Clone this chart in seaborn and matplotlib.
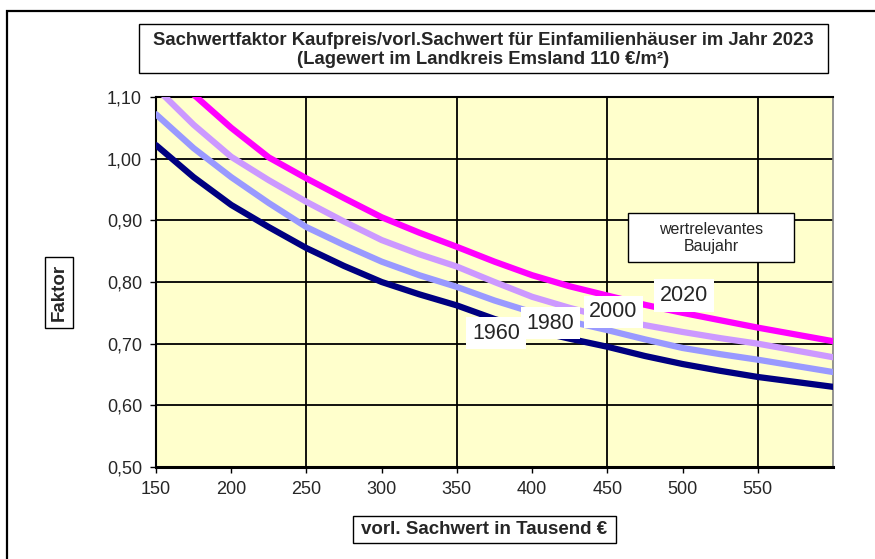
import numpy as np
import pandas as pd
import seaborn as sns
from matplotlib import pyplot as plt
from matplotlib.patches import Rectangle
from matplotlib.ticker import MultipleLocator, FuncFormatter

# vorl. Sachwert in Tausend Euro
sachwert = [150, 175, 200, 225, 250, 275, 300, 325, 350, 375,
            400, 425, 450, 475, 500, 525, 550, 575, 600]
# Sachwertfaktor je wertrelevantem Baujahr
faktor_1960 = [1.022, 0.970, 0.925, 0.889, 0.855, 0.826, 0.800, 0.780, 0.762, 0.740,
               0.722, 0.708, 0.695, 0.680, 0.667, 0.656, 0.646, 0.638, 0.630]
faktor_1980 = [1.072, 1.017, 0.970, 0.928, 0.889, 0.860, 0.833, 0.811, 0.792, 0.770,
               0.751, 0.736, 0.722, 0.707, 0.693, 0.683, 0.674, 0.664, 0.654]
faktor_2000 = [1.115, 1.055, 1.003, 0.965, 0.930, 0.898, 0.868, 0.845, 0.825, 0.800,
               0.776, 0.758, 0.742, 0.730, 0.719, 0.709, 0.700, 0.689, 0.678]
faktor_2020 = [1.160, 1.104, 1.050, 1.002, 0.968, 0.936, 0.905, 0.880, 0.857, 0.833,
               0.811, 0.793, 0.778, 0.763, 0.750, 0.738, 0.726, 0.715, 0.704]
baujahre = ['1960', '1980', '2000', '2020']
farben = ['#000080', '#9999FF', '#CC99FF', '#FF00FF']
# Beschriftung der Kurven (x, y in Datenkoordinaten)
label_x = [376, 412, 454, 501]
label_y = [0.717, 0.733, 0.752, 0.778]

df = pd.DataFrame({
    'Sachwert': sachwert * 4,
    'Faktor': faktor_1960 + faktor_1980 + faktor_2000 + faktor_2020,
    'Baujahr': np.repeat(baujahre, len(sachwert)),
})

sns.set_style('white')
plt.rcParams['font.family'] = ['Liberation Sans', 'DejaVu Sans']

W, H = 875, 559
fig = plt.figure(figsize=(W/100, H/100), dpi=100)
ax = fig.add_axes([156/W, 1-467/H, (833-156)/W, (467-97)/H])
ax.set_facecolor('#FFFFCC')

sns.lineplot(data=df, x='Sachwert', y='Faktor', hue='Baujahr', palette=farben,
             linewidth=4.5, legend=False, ax=ax, zorder=3)

ax.set_xlim(150, 600)
ax.set_ylim(0.5, 1.1)
ax.set_xticks([150, 200, 250, 300, 350, 400, 450, 500, 550])
ax.set_xticks([250, 350, 450, 550], minor=True)
ax.xaxis.remove_overlapping_locs = False
ax.yaxis.set_major_locator(MultipleLocator(0.1))
ax.yaxis.set_major_formatter(FuncFormatter(lambda v, p: f'{v:.2f}'.replace('.', ',')))
ax.grid(which='minor', axis='x', color='black', linewidth=1.3, zorder=1)
ax.grid(which='major', axis='y', color='black', linewidth=1.3, zorder=1)
ax.set_axisbelow(True)
ax.tick_params(axis='x', which='minor', length=0)
ax.tick_params(which='major', direction='out', length=4, width=1, color='black',
               labelsize=13, pad=6, left=True, bottom=True)
ax.set_xlabel('')
ax.set_ylabel('')
for side in ['top', 'left', 'bottom']:
    ax.spines[side].set_color('black')
    ax.spines[side].set_linewidth(1.5)
ax.spines['bottom'].set_linewidth(2.2)
ax.spines['right'].set_color('#808080')
ax.spines['right'].set_linewidth(1.2)

for x, y, t in zip(label_x, label_y, baujahre):
    ax.text(x, y, t, fontsize=15.5, ha='center', va='center', zorder=5,
            bbox=dict(facecolor='white', edgecolor='none', pad=4))


def kasten(x0, y0, x1, y1):
    # Rahmen in Pixelkoordinaten (von oben gemessen)
    fig.patches.append(Rectangle((x0/W, 1-y1/H), (x1-x0)/W, (y1-y0)/H,
                                 transform=fig.transFigure, facecolor='white',
                                 edgecolor='black', linewidth=1, zorder=2))


# Legendenkasten
kasten(628, 213, 794, 262)
fig.text(711/W, 1-238/H, 'wertrelevantes\nBaujahr', fontsize=11.5, ha='center',
         va='center', linespacing=1.15, zorder=3)

# Titel
kasten(139, 24, 828, 73)
fig.text(483/W, 1-50/H,
         'Sachwertfaktor Kaufpreis/vorl.Sachwert für Einfamilienhäuser im Jahr 2023\n'
         '(Lagewert im Landkreis Emsland 110 €/m²)',
         fontsize=13.3, fontweight='bold', ha='center', va='center', linespacing=1.1,
         zorder=3)

kasten(353, 516, 616, 543)
fig.text(484.5/W, 1-530/H, 'vorl. Sachwert in Tausend €', fontsize=13.5,
         fontweight='bold', ha='center', va='center', zorder=3)
kasten(45, 257, 73, 328)
fig.text(59.5/W, 1-292.5/H, 'Faktor', fontsize=13.5, fontweight='bold', rotation=90,
         ha='center', va='center', zorder=3)

# äußerer Rahmen
fig.patches.append(Rectangle((7/W, -0.1), 1.2, 1.1 - 11/H, transform=fig.transFigure,
                             fill=False, edgecolor='black', linewidth=1.6, zorder=2))

fig.savefig('out.png', dpi=100)
